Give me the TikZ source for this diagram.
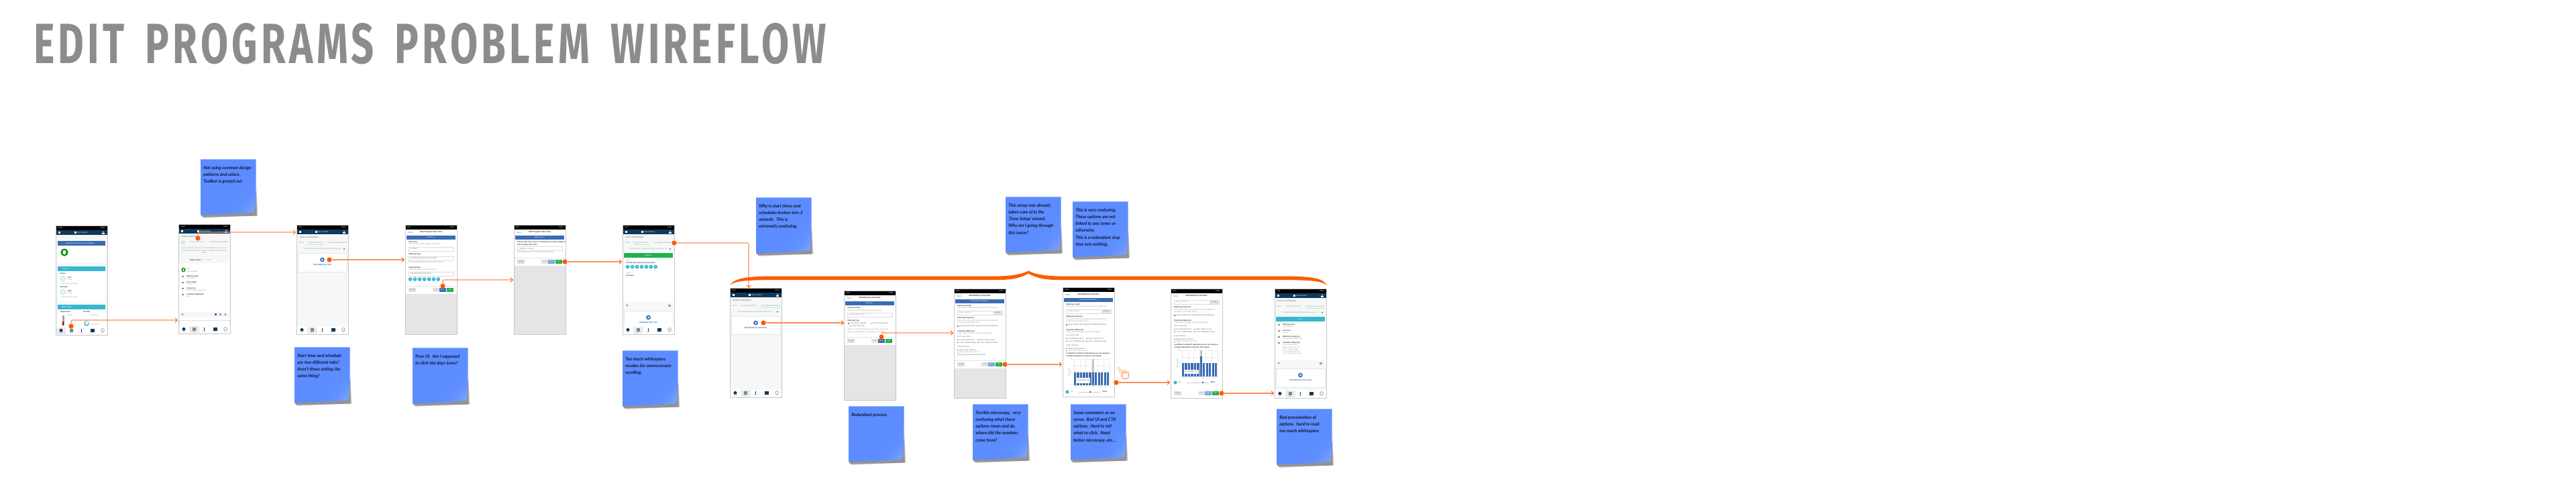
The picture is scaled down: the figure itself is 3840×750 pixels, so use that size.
\documentclass[tikz,border=0pt]{standalone}
\usepackage{fontspec}
\usepackage{graphicx}
\usetikzlibrary{arrows.meta,calc}
\setmainfont{Liberation Sans}
\newfontfamily\lato{Lato}
\newfontfamily\firaf[LetterSpace=9,WordSpace=1.6]{Fira Sans}
\definecolor{ink}{HTML}{0E1630}
\definecolor{noteA}{HTML}{5C8CFF}
\definecolor{noteB}{HTML}{A6C4FF}
\definecolor{hot}{HTML}{FF5A00}
\definecolor{linkc}{HTML}{FF8C58}
\definecolor{navy}{HTML}{0D3A5C}
\definecolor{bluebar}{HTML}{3A6CB5}
\definecolor{fadeblue}{HTML}{7FA3D6}
\definecolor{teal}{HTML}{35B8CF}
\definecolor{okgreen}{HTML}{22B14C}
\definecolor{paper}{HTML}{F6F7F7}
\definecolor{dim}{HTML}{E5E5E5}
\pgfdeclarehorizontalshading{noteshade}{100bp}{color(0bp)=(noteA); color(62bp)=(noteA); color(72bp)=(noteA!92!noteB); color(100bp)=(noteB)}
\newcounter{lbn}
\tikzset{
  x=0.5pt,y=-0.5pt,
  phonebox/.style={anchor=north west,draw=none,fill=white,minimum width=38.5pt,minimum height=81.5pt,inner sep=0pt,outer sep=0pt},
  phoneedge/.style={draw=black!22,line width=0.5pt},
  lbh/.style={anchor=west,inner sep=0pt,text=black!80,font=\fontsize{1.3}{1.6}\selectfont\bfseries},
  lbs/.style={anchor=west,inner sep=0pt,text=black!42,font=\fontsize{1.25}{1.6}\selectfont},
  lbw/.style={anchor=center,inner sep=0pt,text=white,font=\fontsize{1.3}{1.6}\selectfont},
  lbb/.style={anchor=center,inner sep=0pt,text=bluebar,font=\fontsize{1.5}{1.8}\selectfont\bfseries},
  lbg/.style={anchor=west,inner sep=0pt,text=black!50,font=\fontsize{1.5}{1.8}\selectfont\bfseries},
  notetext/.style={anchor=north west,inner sep=0pt,align=left,text=ink,font=\fontsize{3.3}{5.1}\selectfont\lato\bfseries\itshape},
  hotdot/.style={circle,fill=hot,draw=none,minimum size=3.6pt,inner sep=0pt,outer sep=0pt},
  link/.style={draw=linkc,line width=0.55pt,rounded corners=1pt,-{Straight Barb[length=1.6pt,width=3.2pt,line width=0.45pt,color=hot!80!linkc]}},
}
\newcommand\lb[4][lbh]{\stepcounter{lbn}\node[#1] (lb\arabic{lbn}) at ({#2},{#3}) {#4};}
\newcommand\rb[5]{\fill[#5] ({#1},{#2}) rectangle ({#3},{#4});}
\newcommand\phone[4]{\node[phonebox] (#1) at (#2,#3) {};\begin{scope}[shift={(#2,#3)}]#4\end{scope}\draw[phoneedge] (#1.north west) rectangle (#1.south east);}
\newcommand\statusb[1]{\rb{0}{0}{77}{7}{black}\lb[lbw,anchor=west]{3}{3.5}{#1}\lb[lbw,anchor=east]{74}{3.5}{105\%}}
\newcommand\navhead{\rb{0}{7}{77}{14}{navy}
  \rb{3.5}{9}{7}{9.6}{white}\rb{3.5}{10.2}{7}{10.8}{white}\rb{3.5}{11.4}{7}{12}{white}
  \rb{28}{8.8}{31}{12}{white}\lb[lbw,anchor=west]{32}{10.5}{My Controller}
  \fill[white] (71,9.6) circle (1);\rb{69}{11}{73}{12.6}{white}}
\newcommand\zonehead{\rb{0}{14}{77}{22.5}{paper}\lb[lbg]{4}{18.5}{Zones \& Schedules}}
\newcommand\tabs[1]{\rb{0}{23}{77}{31}{paper}
  \ifnum#1=1 \rb{3}{27.5}{10}{30}{green!30}\fi
  \ifnum#1=2 \rb{16}{28.5}{40}{30}{green!35}\fi
  \ifnum#1=3 \rb{46}{28.5}{75}{30}{green!35}\fi
  \lb[lbs]{3.5}{27}{Zones}\lb[lbs]{16}{27}{Program Start Times}\lb[lbs]{46}{27}{Preconfigured Schedules}}
\newcommand\navbar[1]{\rb{0}{151}{77}{163}{white}
  \ifnum#1=1 \rb{1}{152}{15}{162}{black!8}\else \rb{16}{152}{31}{162}{black!8}\fi
  \fill[navy] (5,156) -- (8,153.5) -- (11,156) -- (10,156) -- (10,158.5) -- (6,158.5) -- (6,156) -- cycle;
  \rb{20.5}{153.5}{26}{158.5}{navy!60}
  \rb{37.5}{153.5}{39}{154.5}{navy}\rb{37.5}{155}{39}{158.5}{navy}
  \rb{51.5}{153.5}{57.5}{158.5}{navy}
  \draw[navy!60,line width=0.3pt] (70,156) circle (2.4);
  \lb[lbs,anchor=center,font=\fontsize{0.95}{1}\selectfont]{8}{160.5}{Home}
  \lb[lbs,anchor=center,font=\fontsize{0.95}{1}\selectfont]{23}{160.5}{Zones}
  \lb[lbs,anchor=center,font=\fontsize{0.95}{1}\selectfont]{38}{160.5}{Settings}
  \lb[lbs,anchor=center,font=\fontsize{0.95}{1}\selectfont]{54}{160.5}{Reports}
  \lb[lbs,anchor=center,font=\fontsize{0.95}{1}\selectfont]{70}{160.5}{Help}}
\newcommand\formtop[3]{\rb{0}{#3}{77}{163}{dim}
  \lb[lbb,anchor=west,font=\fontsize{1.4}{1.6}\selectfont]{3}{11}{‹ Back}\lb[lbh,anchor=center,font=\fontsize{1.45}{1.8}\selectfont\bfseries]{38.5}{11}{#1}
  \rb{2}{16}{75}{22}{bluebar}\lb[lbw]{38.5}{19}{#2}}
\newcommand\btns[2]{\rb{5}{#1}{16}{#1+5.7}{black!13}\lb[lbs,anchor=center]{10.5}{#1+2.85}{Cancel}
  \rb{41}{#1}{50.5}{#1+5.7}{black!10}\lb[lbs,anchor=center]{45.7}{#1+2.85}{‹ Prev}
  \rb{51}{#1}{61}{#1+5.7}{#2}\lb[lbw]{56}{#1+2.85}{Next ›}
  \rb{62}{#1}{72}{#1+5.7}{okgreen}\lb[lbw]{67}{#1+2.85}{OK}}
\newcommand\selbox[2]{\draw[black!14,line width=0.2pt,fill=white] (5,#1) rectangle (72,{#1+6});\lb[lbs,text=black!60]{8}{#1+3}{#2}}
\newcommand\days[2][0]{\foreach \dx/\dn in {7.6/Su,14.6/Mo,21.6/Tu,28.5/We,35.5/Th,42.3/Fr,49.2/Sa}{\fill[teal] ({\dx+#1},#2) circle (2.9);\lb[lbw,font=\fontsize{1}{1}\selectfont]{\dx+#1}{#2}{\dn}}}
\newcommand\plusico[2]{\fill[bluebar] (#1,#2) circle (3.4);\fill[white] (#1,#2) circle (1.5);}
\newcommand\rowit[3]{\rb{5}{#1-1}{7.5}{#1+1}{black!45}\lb[lbh]{12}{#1}{#2}\lb[lbs]{12}{#1+3}{#3}}
\newcommand\leafdot[3]{\fill[green!55!black] (#1,#2) circle (#3);\fill[white] (#1,#2) ellipse ({#3*0.45} and {#3*0.6});}
\newcommand\sunic[2]{\draw[teal!70,line width=0.25pt] (#1,#2) circle (2.3);\draw[teal!70,line width=0.4pt,dash pattern=on 0.5pt off 0.9pt] (#1,#2) circle (4.2);}
\newcommand\ck[3]{\rb{#1}{#2-0.8}{#1+1.6}{#2+0.8}{black!55}\lb[lbs,text=black!65]{#1+3}{#2}{#3}}
\newcommand\tbody{
  \lb{5}{26}{Watering Length}\lb[lbs]{5}{29}{The number of minutes this zone will run for each time}
  \draw[black!14,line width=0.2pt] (5,33) rectangle (72,39);\rb{58}{33}{72}{39}{black!10}
  \lb[lbs]{8}{36}{Enter a number}\lb[lbs,text=black!65]{60}{36}{minutes}}
\newcommand\tmid[1]{
  \lb{5}{#1}{Watering Frequency}\lb[lbs]{5}{#1+3.5}{Choose how often each irrigation zone associated with}\lb[lbs]{5}{#1+7}{the Watering Schedule will run}
  \ck{5}{#1+12}{Every Program Start Time}\rb{35}{#1+11.6}{36.6}{#1+13}{black!20}\lb[lbs,text=black!65]{38}{#1+12}{Interval Based Watering}
  \lb{5}{#1+19.5}{Predictive Watering?}\lb[lbs]{5}{#1+23}{Adjust watering based on the following triggers}
  \lb[lbs,text=bluebar]{5}{#1+27.5}{Don't water when:}
  \ck{5}{#1+32.5}{Forecast below 40°F}\ck{35}{#1+32.5}{80\%+ chance of rain}
  \ck{5}{#1+36.5}{0.1in+ rainfall last day}\ck{35}{#1+36.5}{1.0in+ rainfall last 3 days}
  \lb[lbs,text=bluebar]{5}{#1+42.5}{Adjust watering}
  \ck{5}{#1+47.5}{Water longer when hot}\rb{5}{#1+50.2}{6.6}{#1+51.6}{black!20}\lb[lbs]{8}{#1+51}{Water more often when hot}}
\newcommand\chartp[9]{% top, l100, base, tall blue top, tipx1, tipy1, tipx2, tipy2, slider y
  \foreach \gx in {17,25.8,34.6,43.4,52.2,61,70}{\draw[black!8,line width=0.15pt] (\gx,#1) -- (\gx,#3);}
  \foreach \gy in {0,0.25,0.5,0.75,1}{\draw[black!8,line width=0.15pt] (15,{#1+(#3-#1)*\gy}) -- (70.5,{#1+(#3-#1)*\gy});}
  \foreach \bi in {0,...,11}{\rb{17+\bi*4.45}{#2}{17+\bi*4.45+3.3}{#3}{bluebar}}
  \rb{43.7}{#1}{47}{#4}{black!22}\rb{43.7}{#4}{47}{#3}{bluebar}
  \rb{#5}{#6}{#7}{#8}{white}\lb[lbs,anchor=center,text=black!70]{(#5+#7)/2}{(#6+#8)/2}{Percentage: 100}
  \lb[lbs,anchor=center,rotate=90]{10}{(#1+#3)/2}{Percentage}
  \lb[lbs,anchor=east,font=\fontsize{1}{1}\selectfont]{15}{#1}{200}\lb[lbs,anchor=east,font=\fontsize{1}{1}\selectfont]{15}{#2}{100}\lb[lbs,anchor=east,font=\fontsize{1}{1}\selectfont]{15}{#3}{0}
  \foreach \mx/\mn in {20/Feb,29/Apr,38/Jun,47/Aug,56/Oct,65/Dec}{\lb[lbs,anchor=center,font=\fontsize{1}{1}\selectfont]{\mx}{#3+2.5}{\mn}}
  \fill[teal] (7,#9) circle (2.6);\lb[lbs,text=black!65]{12}{#9}{Jul}
  \draw[black!20,line width=0.4pt] (24,#9) -- (57,#9);\lb[lbh]{59}{#9}{100\%}}
\newcommand\sticky[4]{\begin{scope}[shift={(#2,#3)}]
  \foreach \sd/\so in {3.2/0.13,2.4/0.17,1.6/0.2,0.8/0.24}{\fill[black!75,opacity=\so] (82.5,30) -- ({82.5+\sd},{85-\sd*0.3}) -- ({2+\sd},{85.5+\sd*0.8}) -- (0,83) -- cycle;}
  \path[shading=noteshade,shading angle=-40] (0,0) -- (82.5,0) -- (82.5,58) .. controls (81.5,70) and (81,74) .. (79.7,79.2) .. controls (60,81) and (30,82.5) .. (0,83) -- cycle;
  \draw[noteB!80!noteA,line width=0.2pt] (0,0) -- (82.5,0) -- (82.5,50);
  \end{scope}
  \node[notetext] (#1) at ({#2+4},{#3+10}) {#4};}
\begin{document}
\begin{tikzpicture}
\useasboundingbox (0,0) rectangle (3840,750);
\fill[white] (0,0) rectangle (3840,750);
% ---- title
\node[anchor=north west,inner sep=0pt,outer sep=0pt,text=black!45] (title) at (50,34) {\resizebox{591pt}{30pt}{\firaf\bfseries EDIT PROGRAMS PROBLEM WIREFLOW}};
% ---- phones
\phone{p1}{83}{336}{\statusb{10:00}\navhead\rb{0}{14}{77}{152}{paper}
  \rb{3}{23}{74}{30}{bluebar}\lb[lbw]{36}{26.5}{Watering Schedule for My Controller}
  \rb{3}{30}{74}{56}{white}\leafdot{13}{40}{5.6}\lb[lbs]{13}{48.5}{1}
  \rb{3}{61}{74}{68}{teal}\lb[lbw,anchor=west]{9}{64.5}{Forecast}
  \rb{3}{68}{74}{113}{white}\lb{6}{72}{Friday}\sunic{11}{79}\lb[lbh]{18}{77.5}{63°F}\lb[lbs]{18}{81}{Sunny}\lb[lbs]{8}{87}{10\%  0.00in  SE 6mph}
  \lb{6}{92}{Saturday}\sunic{11}{99}\lb[lbh]{18}{97.5}{62°F}\lb[lbs]{18}{101}{Sunny}\lb[lbs]{8}{107}{10\%  0.00in  SE 7mph}
  \rb{3}{118}{74}{125}{teal}\lb[lbw,anchor=west]{9}{121.5}{Observations}
  \rb{3}{125}{74}{152}{white}\lb{6}{129}{Temperature}\lb{41}{129}{Rainfall}\lb[lbs]{17}{134}{Current}\lb[lbs]{52}{134}{Last Day}\lb[lbs]{52}{148}{Last Week}
  \rb{9.5}{134}{13}{149}{black!35}\rb{10.3}{143}{12.2}{149}{red!70!black}
  \fill[teal!70] (46,146) circle (4.2);\fill[white] (46.5,145) circle (2.2);
  \navbar{1}}
\phone{p2}{266}{334}{\statusb{10:00}\navhead\zonehead\tabs{1}\rb{0}{31}{77}{58}{paper}
  \lb[lbs,anchor=center]{38.5}{36}{Each of your controller's zones is listed below. When a zone}\lb[lbs,anchor=center]{38.5}{39.5}{needs to run it will water at the next available Program Start}\lb[lbs,anchor=center,text=bluebar]{38.5}{43}{Time.}
  \lb{17}{54}{Master valve:}\draw[black!18,line width=0.2pt,rounded corners=0.8pt,fill=white] (34,51) rectangle (57,57);\lb[lbs]{36}{54}{Not assigned}
  \rb{1}{60}{76}{131}{white}\leafdot{7.5}{68}{3.2}\lb{13}{67}{1}\lb[lbs]{13}{70.5}{Not assigned}
  \rowit{78}{Watering Type}{Time Based}\rowit{87}{Run Length}{1 mins}\rowit{96}{Frequency}{Every Program Start Time}\rowit{105}{Predictive Watering?}{None}
  \rb{1}{131}{76}{139}{paper}\fill[red!70] (6,134.5) circle (1.3);\rb{54}{133}{57}{136}{bluebar}\rb{61}{133}{64}{136}{bluebar!60}\fill[bluebar] (70,134.5) circle (1.4);
  \draw[black!12,line width=0.2pt,fill=white] (1,143) rectangle (76,152);\draw[bluebar,line width=0.6pt] (35.5,152) arc (180:0:2.8);
  \navbar{2}}
\phone{p3}{442}{335}{\statusb{8:07}\navhead\zonehead\tabs{2}\rb{0}{31}{77}{151}{paper}
  \lb[lbs]{10}{36}{Your controller's watering Program Start Times are:}\fill[bluebar] (71,36) circle (1.1);
  \draw[black!10,line width=0.2pt,fill=white] (2,42) rectangle (75,70);\plusico{38.5}{52}\lb[lbb]{38.5}{59.5}{Add Watering Time}
  \navbar{2}}
\phone{p4}{604}{335}{\statusb{8:07}\formtop{Add Program Start Time}{Set Time »}{103}
  \lb{5}{26}{Start Time}\lb[lbs]{5}{29}{Enter the time for this Program Start Time}\selbox{33}{5:00 AM}
  \lb{5}{44}{Watering Type}\selbox{47}{Normal watering time (every week)}\lb[lbs]{5}{56}{Normal watering is permitted to start at this time}
  \lb{5}{64}{Watering Days}\lb[lbs]{5}{67}{Select the days of the week to water}\selbox{70}{Selected Days of the week}
  \days{81}\draw[black!10,line width=0.2pt] (0,91) -- (77,91);\btns{94}{bluebar}}
\phone{p5}{766}{335}{\statusb{8:07}\formtop{Add Program Start Time}{Select Zone »}{61}
  \lb{5}{26}{Please select the zones or schedules you want to apply to}\lb{5}{29.8}{this Program Start Time}
  \selbox{32.5}{Applies to all zones}\lb[lbs]{5}{41}{This program start time can be used by all zones}
  \draw[black!10,line width=0.2pt] (0,49) -- (77,49);\btns{52}{fadeblue}}
\phone{p6}{928}{335}{\statusb{8:07}\navhead\zonehead\tabs{2}\rb{0}{31}{77}{40}{paper}
  \lb[lbs]{10}{36}{Your controller's watering Program Start Times are:}\fill[bluebar] (71,36) circle (1.1);
  \rb{2}{42}{75}{49}{okgreen}\lb[lbw]{38.5}{45.5}{Edit Item}
  \lb[lbs]{5}{53}{Time}\lb{5}{56.5}{Normal watering time (every week)}\days{62.5}
  \lb[lbs]{5}{72}{Zones}\lb{5}{75.5}{All Zones}
  \rb{1}{115}{76}{124}{paper}\fill[red!70] (7,120) circle (1.3);\rb{68}{118.5}{71.5}{121.5}{bluebar!60}
  \rb{0}{124}{77}{128}{paper}\draw[black!10,line width=0.2pt,fill=white] (2,128) rectangle (75,152);\plusico{38.5}{138}\lb[lbb]{38.5}{145.5}{Add Watering Time}
  \navbar{2}}
\phone{p7}{1088}{429}{\statusb{8:00}\navhead\zonehead\tabs{3}\rb{0}{31}{77}{151}{paper}
  \lb[lbs]{11}{36}{Preconfigured Watering Schedules allow you to:}\fill[bluebar] (71,35.5) circle (1.1);
  \draw[black!10,line width=0.2pt,fill=white] (2,42) rectangle (75,69);\plusico{38.5}{52}\lb[lbb]{38.5}{59.5}{Add Watering Schedule}
  \navbar{2}}
\phone{p8}{1258}{433}{\statusb{8:00}\formtop{Add Watering Schedule}{General »}{81}
  \lb{5}{26}{Schedule Name}\lb[lbs]{5}{29.5}{Assign a name for this new watering schedule}
  \draw[black!14,line width=0.2pt] (5,33) rectangle (72,39);\lb[lbs]{7.5}{36}{Enter schedule name}
  \lb{5}{44.5}{Watering Type}\ck{6}{49}{Time Based Schedule}\rb{39}{48.2}{40.6}{49.8}{black!20}\lb[lbs,text=black!65]{42}{49}{Smart (ET) Schedule}\rb{8}{52.2}{9.6}{53.8}{black!20}\lb[lbs,text=black!65]{11}{53}{Virtual Solar Sync}
  \lb[lbs]{5}{58}{Water on a specified frequency (eg, every 1 week) and}\lb[lbs]{5}{62}{adjust schedule based on temperature and rainfall}
  \draw[black!10,line width=0.2pt] (0,69) -- (77,69);\btns{72}{bluebar}}
\phone{p9}{1422}{430}{\statusb{8:00}\formtop{Add Watering Schedule}{Time Based Schedule »}{119}
  \tbody\tmid{44}\lb[lbs,text=bluebar]{5}{99}{Edit monthly adjustments (advanced)}
  \draw[black!10,line width=0.2pt] (0,107) -- (77,107);\btns{110}{fadeblue}}
\phone{p10}{1584}{428}{\statusb{8:00}\formtop{Add Watering Schedule}{Time Based Schedule »}{163}
  \tbody\tmid{44}\lb{5}{99}{In addition to daily ET adjustments you can specify a}\lb{5}{102.5}{monthly adjustment using the chart below.}
  \chartp{107}{127}{146}{127}{21}{135}{41}{143}{156}\fill[bluebar] (41,156) circle (1.5);}
\phone{p11}{1745}{430}{\statusb{8:00}\rb{0}{22}{77}{163}{white}\lb[lbb,anchor=west,font=\fontsize{1.4}{1.6}\selectfont]{3}{11}{‹ Back}\lb[lbh,anchor=center,font=\fontsize{1.45}{1.8}\selectfont\bfseries]{38.5}{11}{Add Watering Schedule}
  \draw[black!14,line width=0.2pt] (5,17) rectangle (72,23);\rb{58}{17}{72}{23}{black!10}\lb[lbs]{8}{20}{Enter a number}\lb[lbs,text=black!65]{60}{20}{minutes}
  \tmid{28}\lb{5}{84}{In addition to daily ET adjustments you can specify a}\lb{5}{87.5}{monthly adjustment using the chart below.}
  \chartp{92}{111}{131}{101}{20}{121}{42}{127}{140}\fill[bluebar] (48,140) circle (1.5);
  \btns{153}{fadeblue}}
\phone{p12}{1900}{430}{\statusb{8:00}\navhead\zonehead\tabs{3}\rb{0}{31}{77}{41}{paper}
  \lb[lbs]{11}{36}{Preconfigured Watering Schedules allow you to:}\fill[bluebar] (71,35.5) circle (1.1);
  \rb{2}{42}{75}{49}{teal}\lb[lbw]{38.5}{45.5}{Test}
  \rowit{54}{Watering Type}{Time Based}\rowit{63}{Run Time}{5 mins}\rowit{72}{Watering Frequency}{Every Program Start Time}\rowit{81}{Predictive Watering?}{Forecast below 40°F}
  \lb[lbs]{12}{87.5}{Water longer when hot}\lb[lbs]{12}{91}{80\%+ chance of rain}\lb[lbs]{12}{94}{0.1in+ rainfall last day}\lb[lbs]{12}{97}{1.0in+ rainfall last 3 days}
  \rb{1}{107}{76}{115}{paper}\fill[red!70] (6,111) circle (1.3);\rb{67}{109.5}{70.5}{112.5}{bluebar!60}
  \rb{0}{115}{77}{152}{paper}\draw[black!10,line width=0.2pt,fill=white] (2,119) rectangle (75,147);\plusico{38.5}{129}\lb[lbb]{38.5}{136.5}{Add Watering Schedule}
  \navbar{2}}
% ---- sticky notes
\sticky{s1}{299}{237}{Not using common design\\patterns and colors.\\Toolbar is greyed out.}
\sticky{s2}{439}{517}{Start time and schedule\\are two different tabs?\\Aren't these setting the\\same thing?}
\sticky{s3}{615}{518}{Poor UI.\ \ Am I supposed\\to click the days icons?}
\sticky{s4}{928}{522}{Too much whitespace.\\msakes for unneccessary\\scrolling.}
\sticky{s5}{1127}{294}{Why is start times and\\schedules broken into 2\\wizards.\ \ This is\\extremely confusing.}
\sticky{s6}{1499}{293}{This setup was already\\taken care of in the\\'Zone Setup' wizard.\\Why am I going through\\this twice?}
\sticky{s7}{1599}{300}{This is very confusing.\\These options are not\\linked to any zones or\\otherwise.\\This is a redundant step\\that sets nothing.}
\sticky{s8}{1265}{605}{Redundant process}
\sticky{s9}{1450}{602}{Terrible microcopy.\ \ very\\confusing what these\\options mean and do.\\where did the numbers\\come from?}
\sticky{s10}{1596}{602}{Same comments as on\\zones. Bad UI and CTA\\options.\ \ Hard to tell\\what to click.\ \ Need\\better microcopy, etc...}
\sticky{s11}{1903}{609}{Bad presentation of\\options.\ \ hard to read.\\too much whitespace}
% ---- connectors
\node[hotdot] (d1) at (106,486) {};
\node[hotdot] (d2) at (295,355) {};
\node[hotdot] (d3) at (491,387) {};
\node[hotdot] (d4) at (660,426) {};
\node[hotdot] (d5) at (842,390) {};
\node[hotdot] (d6) at (1005,362) {};
\node[hotdot] (d7) at (1138,481) {};
\node[hotdot] (d8) at (1314,502) {};
\node[hotdot] (d9) at (1498,543) {};
\node[hotdot] (d10) at (1664,570) {};
\node[hotdot] (d11) at (1821,586) {};
\coordinate (t1) at (265,477);
\coordinate (t2) at (441,346);
\coordinate (t3) at (603,387);
\coordinate (t4) at (765,417);
\coordinate (t5) at (927,390);
\coordinate (t6) at (1116,429);
\coordinate (t7) at (1258,481);
\coordinate (t8) at (1421,496);
\coordinate (t9) at (1583,543);
\coordinate (t10) at (1744,570);
\coordinate (t11) at (1899,586);
\draw[link] (d1.north) |- (t1);
\draw[link] (d2.north) |- (t2);
\draw[link] (d3) -- (t3);
\draw[link] (d4.north) |- (t4);
\draw[link] (d5) -- (t5);
\draw[link] (d6) -| (t6);
\draw[link] (d7) -- (t7);
\draw[link] (d8.north) |- (t8);
\draw[link] (d9) -- (t9);
\draw[link] (d10) -- (t10);
\draw[link] (d11) -- (t11);
% ---- brace
\fill[hot!95!orange] (1088,425) .. controls (1095,414) and (1115,412) .. (1150,411.5) -- (1490,411.5)
  .. controls (1510,411) and (1525,408) .. (1533,403.5) .. controls (1541,408) and (1556,411) .. (1576,411.5) -- (1915,411.5)
  .. controls (1955,412) and (1972,414) .. (1978,425) .. controls (1970,418) and (1950,417.5) .. (1915,417) -- (1576,417)
  .. controls (1555,417) and (1542,413) .. (1533,407.5) .. controls (1524,413) and (1511,417) .. (1490,417) -- (1150,417)
  .. controls (1115,417.5) and (1096,418) .. (1088,425) -- cycle;
% ---- hand cursor
\begin{scope}[line cap=round]
  \foreach \fa/\fb in {{1667,548}/{1672.5,557},{1673.5,552}/{1676,558},{1677.5,552.5}/{1679,558},{1681,554.5}/{1681.5,559}}{
    \draw[hot!70,line width=1.5pt] (\fa) -- (\fb);\draw[white,line width=0.9pt] (\fa) -- (\fb);}
  \draw[hot!70,line width=0.45pt,fill=orange!8] (1677.5,560) ellipse (5.8 and 4.8);
  \draw[white,line width=1pt] (1675,557) -- (1680,557);
\end{scope}
\end{tikzpicture}
\end{document}
